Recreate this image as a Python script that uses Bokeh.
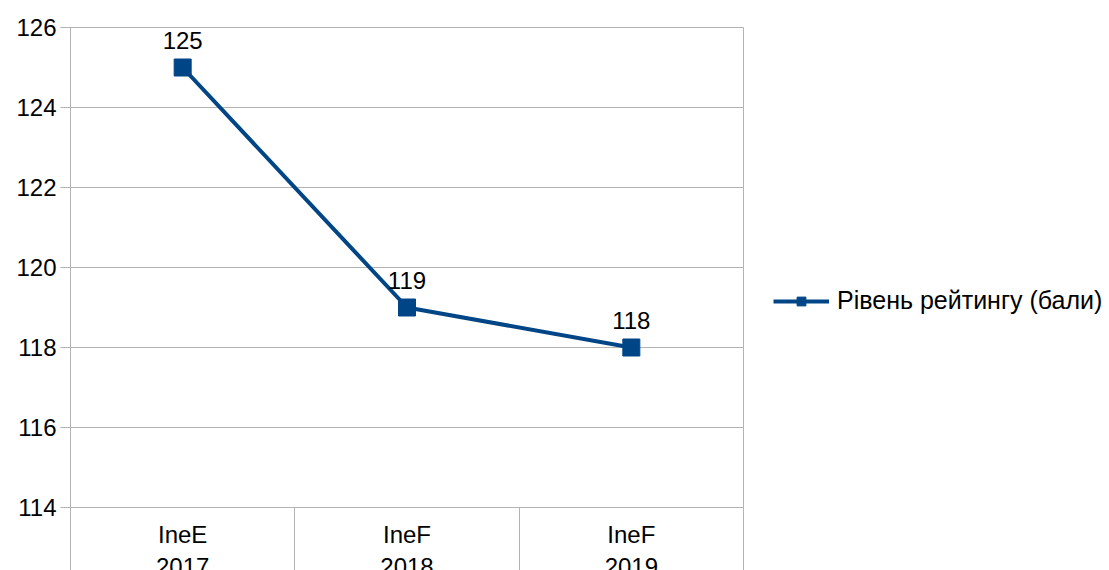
from bokeh.plotting import figure
from bokeh.models import Range1d, FixedTicker, Legend, LegendItem, ColumnDataSource
from bokeh.core.properties import value
from bokeh.embed import file_html
from bokeh.resources import INLINE

categories = ["IneE\n2017", "IneF\n2018", "IneF\n2019"]
ratings = [125, 119, 118]
y_ticks = [114, 116, 118, 120, 122, 124, 126]
series_name = "Рівень рейтингу (бали)"

FONT = "Liberation Sans"
FS = "24px"
BLUE = "#004586"
GRID = "#b3b3b3"

H = 570
FL, FT, FR, FB = 70, 27, 743, 507  # frame edges in page pixels

xs = [i + 0.5 for i in range(len(categories))]
src = ColumnDataSource(dict(x=xs, y=ratings, lbl=[str(v) for v in ratings]))

p = figure(frame_width=FR - FL, frame_height=FB - FT, height=H,
           output_backend="svg", toolbar_location=None,
           x_range=Range1d(0, len(categories)), y_range=Range1d(114, 126),
           min_border_left=FL, min_border_right=0, min_border_top=FT, min_border_bottom=0)
p.background_fill_color = "white"
p.border_fill_color = "white"
p.outline_line_color = GRID
p.outline_line_width = 1

# y axis
p.yaxis.ticker = FixedTicker(ticks=y_ticks)
p.yaxis.major_tick_out = 10
p.yaxis.major_tick_in = 0
p.yaxis.minor_tick_line_color = None
p.yaxis.axis_line_color = GRID
p.yaxis.major_tick_line_color = GRID
p.yaxis.major_label_text_font = FONT
p.yaxis.major_label_text_font_size = FS
p.yaxis.major_label_text_color = "black"
p.yaxis.major_label_standoff = 4

# x axis: category labels at centres, separators as (outward-drawn) minor ticks
p.xaxis.ticker = FixedTicker(ticks=xs, minor_ticks=list(range(len(categories) + 1)))
p.xaxis.major_label_overrides = {x: c for x, c in zip(xs, categories)}
p.xaxis.major_tick_out = 0
p.xaxis.major_tick_in = 0
p.xaxis.major_tick_line_color = None
p.xaxis.major_label_text_font = FONT
p.xaxis.major_label_text_font_size = FS
p.xaxis.major_label_text_color = "black"
p.xaxis.major_label_standoff = 13
p.xaxis.minor_tick_out = 0
p.xaxis.minor_tick_in = -(H - FB)
p.xaxis.minor_tick_line_color = GRID
p.xaxis.axis_line_color = GRID

p.xgrid.grid_line_color = None
p.ygrid.ticker = FixedTicker(ticks=y_ticks)
p.ygrid.grid_line_color = GRID
p.ygrid.grid_line_width = 1

ln = p.line("x", "y", source=src, line_color=BLUE, line_width=4)
mk = p.scatter("x", "y", source=src, marker="square", size=17, fill_color=BLUE, line_color=BLUE)
p.text("x", "y", text="lbl", source=src, text_font=value(FONT), text_font_size=FS,
       text_align="center", text_baseline="middle", y_offset=-27, text_color="black")

legend = Legend(items=[LegendItem(label=series_name, renderers=[ln, mk])],
                location=(30, 192), orientation="vertical")
legend.border_line_color = None
legend.background_fill_alpha = 0
legend.label_text_font = FONT
legend.label_text_font_size = "25px"
legend.label_text_color = "black"
legend.glyph_width = 56
legend.glyph_height = 22
legend.label_standoff = 8
legend.padding = 0
legend.margin = 0
p.add_layout(legend, "right")

open("out.html", "w").write(file_html(p, INLINE))
